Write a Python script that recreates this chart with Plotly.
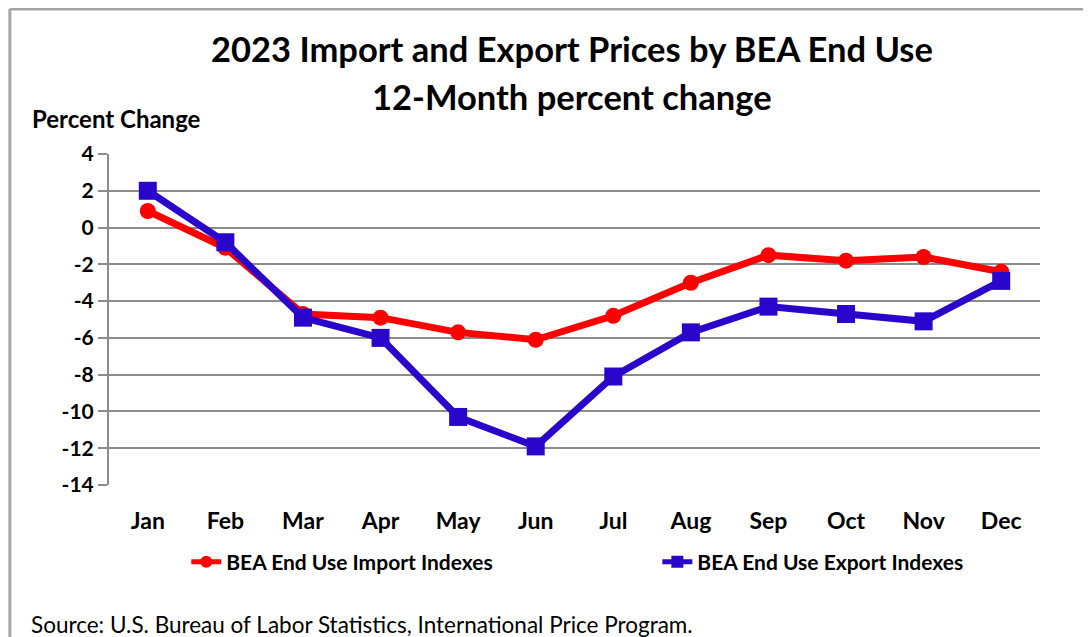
import plotly.graph_objects as go

months = ["Jan", "Feb", "Mar", "Apr", "May", "Jun", "Jul", "Aug", "Sep", "Oct", "Nov", "Dec"]
import_idx = [0.9, -1.1, -4.7, -4.9, -5.7, -6.1, -4.8, -3.0, -1.5, -1.8, -1.6, -2.4]
export_idx = [2.0, -0.8, -4.9, -6.0, -10.3, -11.9, -8.1, -5.7, -4.3, -4.7, -5.1, -2.9]
y_ticks = [4, 2, 0, -2, -4, -6, -8, -10, -12, -14]

FONT = "Lato"
GRID = "#8c8c8c"
RED = "#ff0000"
BLUE = "#2a06cc"

fig = go.Figure()
fig.add_trace(go.Scatter(
    x=months, y=import_idx, mode="lines+markers", name="BEA End Use Import Indexes",
    line=dict(color=RED, width=7),
    marker=dict(symbol="circle", size=16, color=RED),
    legend="legend",
))
fig.add_trace(go.Scatter(
    x=months, y=export_idx, mode="lines+markers", name="BEA End Use Export Indexes",
    line=dict(color=BLUE, width=7),
    marker=dict(symbol="square", size=18, color=BLUE),
    legend="legend2",
))

legend_font = dict(family=FONT, size=21, weight="bold", color="black")

fig.update_layout(
    width=1091, height=637,
    margin=dict(l=101, r=59, t=146, b=160),
    paper_bgcolor="white", plot_bgcolor="white",
    font=dict(family=FONT, color="black"),
    showlegend=True,
    legend=dict(
        orientation="h", x=0.083, xanchor="left", y=-0.233, yanchor="middle",
        font=legend_font, bgcolor="rgba(0,0,0,0)", itemsizing="constant",
    ),
    legend2=dict(
        orientation="h", x=0.589, xanchor="left", y=-0.233, yanchor="middle",
        font=legend_font, bgcolor="rgba(0,0,0,0)", itemsizing="constant",
    ),
    xaxis=dict(
        type="category", categoryorder="array", categoryarray=months,
        range=[-0.5, 11.5],
        showgrid=False, showline=False, ticks="", zeroline=False,
        tickfont=dict(family=FONT, size=23, weight="bold", color="black"),
        ticklabelstandoff=20,
    ),
    yaxis=dict(
        range=[-14, 4], tickvals=y_ticks, ticktext=[str(v) for v in y_ticks],
        showgrid=True, gridcolor=GRID, gridwidth=2,
        showline=True, linecolor=GRID, linewidth=2,
        ticks="outside", ticklen=9, tickcolor=GRID, tickwidth=2,
        zeroline=False,
        tickfont=dict(family=FONT, size=21, weight="bold", color="black"),
    ),
)

# outer chart frame
fig.add_shape(type="line", xref="paper", yref="paper", x0=-0.1065, x1=1.1, y0=1.438, y1=1.438,
              line=dict(color="#a6a6a6", width=3))
fig.add_shape(type="line", xref="paper", yref="paper", x0=-0.1065, x1=-0.1065, y0=1.438, y1=-0.55,
              line=dict(color="#a6a6a6", width=3))

title_font = dict(family=FONT, size=34.5, weight="bold", color="black")
fig.add_annotation(
    text="2023 Import and Export Prices by BEA End Use", xref="paper", yref="paper",
    x=0.497, y=1.318, xanchor="center", yanchor="middle", showarrow=False, font=title_font,
)
fig.add_annotation(
    text="12-Month percent change", xref="paper", yref="paper",
    x=0.497, y=1.174, xanchor="center", yanchor="middle", showarrow=False, font=title_font,
)
fig.add_annotation(
    text="Percent Change", xref="paper", yref="paper", x=-0.085, y=1.106,
    xanchor="left", yanchor="middle", showarrow=False,
    font=dict(family=FONT, size=24, weight="bold", color="black"),
)
fig.add_annotation(
    text="Source: U.S. Bureau of Labor Statistics, International Price Program.",
    xref="paper", yref="paper", x=-0.0855, y=-0.421,
    xanchor="left", yanchor="middle", showarrow=False,
    font=dict(family=FONT, size=22.5, color="black"),
)

fig.write_html("out.html")
